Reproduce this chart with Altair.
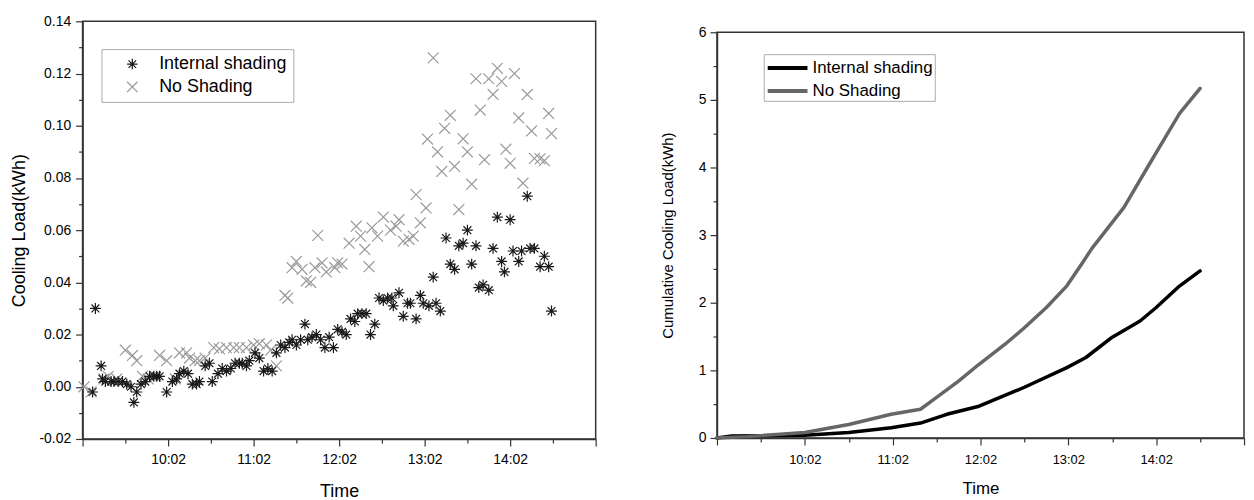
import altair as alt
import pandas as pd

# ---------------- data ----------------
series = ["Internal shading", "No Shading"]

internal_time = ["9:09", "9:11", "9:15", "9:16", "9:18", "9:22", "9:24", "9:27", "9:30", "9:33",
                 "9:36", "9:38", "9:40", "9:43", "9:46", "9:49", "9:52", "9:54", "9:56", "10:01",
                 "10:05", "10:08", "10:10", "10:13", "10:16", "10:19", "10:22", "10:24", "10:28", "10:31",
                 "10:33", "10:37", "10:40", "10:43", "10:46", "10:49", "10:52", "10:54", "10:57", "10:59",
                 "11:03", "11:06", "11:09", "11:12", "11:15", "11:18", "11:21", "11:24", "11:27", "11:29",
                 "11:32", "11:35", "11:38", "11:40", "11:43", "11:46", "11:49", "11:52", "11:55", "11:58",
                 "12:01", "12:04", "12:07", "12:10", "12:13", "12:15", "12:18", "12:21", "12:24", "12:27",
                 "12:30", "12:33", "12:36", "12:39", "12:40", "12:44", "12:47", "12:50", "12:52", "12:56",
                 "12:59", "13:01", "13:05", "13:08", "13:10", "13:13", "13:17", "13:20", "13:23", "13:26",
                 "13:29", "13:32", "13:35", "13:38", "13:40", "13:43", "13:47", "13:50", "13:53", "13:56",
                 "13:58", "14:02", "14:04", "14:08", "14:10", "14:14", "14:16", "14:19", "14:23", "14:26",
                 "14:29", "14:31"]
internal_load = [-0.002, 0.030, 0.008, 0.003, 0.002, 0.002, 0.002, 0.002, 0.002, 0.001,
                 0.000, -0.006, -0.002, 0.001, 0.002, 0.004, 0.004, 0.004, 0.004, -0.002,
                 0.002, 0.003, 0.005, 0.006, 0.005, 0.001, 0.001, 0.002, 0.008, 0.009,
                 0.002, 0.005, 0.007, 0.006, 0.007, 0.009, 0.009, 0.009, 0.008, 0.010,
                 0.013, 0.011, 0.006, 0.007, 0.006, 0.013, 0.016, 0.015, 0.017, 0.018,
                 0.016, 0.018, 0.024, 0.018, 0.019, 0.020, 0.018, 0.015, 0.019, 0.015,
                 0.022, 0.021, 0.020, 0.026, 0.025, 0.028, 0.028, 0.028, 0.020, 0.024,
                 0.034, 0.033, 0.034, 0.034, 0.031, 0.036, 0.027, 0.032, 0.032, 0.026,
                 0.035, 0.032, 0.031, 0.042, 0.032, 0.029, 0.057, 0.047, 0.045, 0.054,
                 0.055, 0.060, 0.047, 0.054, 0.038, 0.039, 0.037, 0.053, 0.065, 0.048,
                 0.044, 0.064, 0.052, 0.048, 0.052, 0.073, 0.053, 0.053, 0.046, 0.050,
                 0.046, 0.029]

noshade_time = ["9:03", "9:08", "9:17", "9:20", "9:26", "9:32", "9:37", "9:40", "9:44", "9:48",
                "9:53", "9:56", "10:01", "10:07", "10:10", "10:15", "10:17", "10:21", "10:24", "10:28",
                "10:34", "10:38", "10:43", "10:48", "10:52", "10:57", "11:02", "11:06", "11:11", "11:14",
                "11:18", "11:24", "11:26", "11:29", "11:32", "11:36", "11:39", "11:42", "11:45", "11:47",
                "11:50", "11:53", "11:59", "12:01", "12:04", "12:09", "12:14", "12:17", "12:20", "12:23",
                "12:25", "12:29", "12:33", "12:38", "12:42", "12:44", "12:47", "12:51", "12:54", "12:56",
                "12:59", "13:03", "13:04", "13:08", "13:11", "13:14", "13:16", "13:20", "13:23", "13:26",
                "13:29", "13:32", "13:35", "13:38", "13:41", "13:44", "13:47", "13:50", "13:53", "13:56",
                "13:59", "14:02", "14:05", "14:08", "14:11", "14:14", "14:17", "14:19", "14:23", "14:26",
                "14:29", "14:31"]
noshade_load = [0.000, -0.002, 0.003, 0.004, 0.003, 0.014, 0.012, 0.010, 0.004, 0.003,
                0.004, 0.012, 0.010, 0.003, 0.013, 0.013, 0.011, 0.010, 0.010, 0.011,
                0.015, 0.0145, 0.015, 0.015, 0.015, 0.015, 0.016, 0.0165, 0.016, 0.014,
                0.008, 0.035, 0.034, 0.0456, 0.048, 0.045, 0.0406, 0.040, 0.0456, 0.058,
                0.0475, 0.044, 0.0456, 0.0475, 0.047, 0.055, 0.0615, 0.0577, 0.0526, 0.046,
                0.0609, 0.0577, 0.065, 0.060, 0.0615, 0.064, 0.0558, 0.0565, 0.0577, 0.0736,
                0.0628, 0.0685, 0.0949, 0.126, 0.090, 0.0825, 0.099, 0.104, 0.0844, 0.0679,
                0.095, 0.090, 0.0776, 0.118, 0.106, 0.087, 0.118, 0.112, 0.122, 0.117,
                0.091, 0.0856, 0.120, 0.103, 0.078, 0.112, 0.098, 0.0875, 0.0873, 0.0866,
                0.1047, 0.097]

cum_internal_time = ["9:02", "9:12", "10:02", "10:32", "11:01", "11:21", "11:39", "12:01",
                     "12:32", "13:01", "13:14", "13:32", "13:51", "14:02", "14:17", "14:32"]
cum_internal = [0.0, 0.03, 0.04, 0.08, 0.15, 0.22, 0.35, 0.47,
                0.75, 1.04, 1.19, 1.49, 1.73, 1.93, 2.23, 2.47]

cum_noshade_time = ["9:02", "9:22", "10:02", "10:32", "11:01", "11:21", "11:32", "11:47",
                    "12:01", "12:19", "12:32", "12:47", "13:01", "13:11", "13:18", "13:40",
                    "13:56", "14:07", "14:18", "14:32"]
cum_noshade = [0.0, 0.02, 0.08, 0.20, 0.35, 0.425, 0.60, 0.84,
               1.09, 1.39, 1.63, 1.93, 2.25, 2.57, 2.80, 3.41,
               4.00, 4.40, 4.80, 5.17]


def to_min(s):
    h, m = s.split(":")
    return int(h) * 60 + int(m)


left_df = pd.concat([
    pd.DataFrame({"minute": [to_min(t) for t in noshade_time], "load": noshade_load, "series": series[1]}),
    pd.DataFrame({"minute": [to_min(t) for t in internal_time], "load": internal_load, "series": series[0]}),
], ignore_index=True)

right_df = pd.concat([
    pd.DataFrame({"minute": [to_min(t) for t in cum_internal_time], "cum": cum_internal, "curve": series[0]}),
    pd.DataFrame({"minute": [to_min(t) for t in cum_noshade_time], "cum": cum_noshade, "curve": series[1]}),
], ignore_index=True)

# ---------------- axes helpers ----------------
x_start, x_end = to_min("9:02"), to_min("15:02")
x_ticks = list(range(x_start, x_end + 1, 30))
x_label_expr = (f"(datum.value % 60 == 2 && datum.value > {x_start} && datum.value < {x_end}) ? "
                "(floor(datum.value / 60) + ':' + (datum.value % 60 < 10 ? '0' : '') + (datum.value % 60)) : ''")
x_tick_size = {"condition": {"test": "datum.value % 60 == 2", "value": 7}, "value": 4}

yl_ticks = [round(-0.02 + 0.01 * i, 2) for i in range(17)]
yl_label_expr = ("abs(round(datum.value * 100)) % 2 == 0 ? "
                 "replace(format(datum.value, '.2f'), '\u2212', '-') : ''")
yl_tick_size = {"condition": {"test": "abs(round(datum.value * 100)) % 2 == 0", "value": 7}, "value": 4}

yr_ticks = [i * 0.5 for i in range(13)]
yr_label_expr = "datum.value % 1 == 0 ? format(datum.value, 'd') : ''"
yr_tick_size = {"condition": {"test": "datum.value % 1 == 0", "value": 7}, "value": 4}

asterisk = "M-1,0L1,0M0,-1L0,1M-0.72,-0.72L0.72,0.72M-0.72,0.72L0.72,-0.72"
xcross = "M-1,-1L1,1M-1,1L1,-1"
wide_stroke = "M-2,0L2,0"

left_legend = alt.Legend(
    title=None, orient="none", legendX=19, legendY=28,
    strokeColor="#aaaaaa", fillColor="white", padding=6,
    labelFontSize=18, labelLimit=300, symbolSize=110, symbolStrokeWidth=1.2,
    symbolOffset=16, labelOffset=18, rowPadding=5,
)

left = alt.Chart(left_df).mark_point(filled=False, size=120, strokeWidth=1.2, opacity=1).encode(
    x=alt.X("minute:Q", title="Time",
            scale=alt.Scale(domain=[x_start, x_end], nice=False, zero=False),
            axis=alt.Axis(values=x_ticks, labelExpr=x_label_expr, tickSize=x_tick_size,
                          labelFontSize=14, titleFontSize=18, labelPadding=7, titlePadding=16)),
    y=alt.Y("load:Q", title="Cooling Load(kWh)",
            scale=alt.Scale(domain=[-0.02, 0.14], nice=False, zero=False),
            axis=alt.Axis(values=yl_ticks, labelExpr=yl_label_expr, tickSize=yl_tick_size,
                          labelFontSize=14, titleFontSize=18, labelPadding=5, titlePadding=10)),
    color=alt.Color("series:N", scale=alt.Scale(domain=series, range=["#1a1a1a", "#9a9a9a"]),
                    legend=left_legend),
    shape=alt.Shape("series:N", scale=alt.Scale(domain=series, range=[asterisk, xcross]),
                    legend=left_legend),
).properties(width=516, height=420)

right = alt.Chart(right_df).mark_line(strokeWidth=3.5, strokeJoin="round", strokeCap="round").encode(
    x=alt.X("minute:Q", title="Time",
            scale=alt.Scale(domain=[x_start, x_end], nice=False, zero=False),
            axis=alt.Axis(values=x_ticks, labelExpr=x_label_expr, tickSize=x_tick_size,
                          labelFontSize=13, titleFontSize=17, labelPadding=9, titlePadding=14)),
    y=alt.Y("cum:Q", title="Cumulative Cooling Load(kWh)",
            scale=alt.Scale(domain=[0, 6], nice=False, zero=False),
            axis=alt.Axis(values=yr_ticks, labelExpr=yr_label_expr, tickSize=yr_tick_size,
                          labelFontSize=14, titleFontSize=15, labelPadding=4, titlePadding=23)),
    color=alt.Color("curve:N", scale=alt.Scale(domain=series, range=["#000000", "#666666"]),
                    legend=alt.Legend(title=None, orient="none", legendX=47, legendY=33,
                                      strokeColor="#aaaaaa", fillColor="white", padding=2,
                                      labelFontSize=17, labelLimit=300, symbolType=wide_stroke,
                                      symbolSize=400, symbolStrokeWidth=4, symbolOffset=10,
                                      labelOffset=13, rowPadding=3)),
).properties(width=530, height=408)

# invisible spacer that lowers the right panel a little
spacer = alt.Chart(pd.DataFrame({"a": [0]})).mark_point(opacity=0, size=0, strokeWidth=0).encode(
    x=alt.X("a:Q", axis=None), y=alt.Y("a:Q", axis=None)
).properties(width=530, height=2, view=alt.ViewBackground(stroke="transparent"))

right_col = alt.vconcat(spacer, right, spacing=0).resolve_scale(x="independent", y="independent")

chart = alt.hconcat(left, right_col, spacing=62).resolve_scale(
    color="independent", shape="independent"
).resolve_legend(color="independent", shape="independent").properties(
    padding={"left": 2, "top": 4, "right": 0, "bottom": 0}
).configure_axis(
    labelFont="Liberation Sans", titleFont="Liberation Sans",
    labelColor="#000000", titleColor="#000000", titleFontWeight="normal",
    domainColor="#333333", tickColor="#333333", domainWidth=1.5, tickWidth=1.2, grid=False,
).configure_legend(
    labelFont="Liberation Sans", labelColor="#000000",
).configure_view(
    stroke="#333333", strokeWidth=1.5,
)

chart.save("out.html", embed_options={"renderer": "svg", "actions": False})
